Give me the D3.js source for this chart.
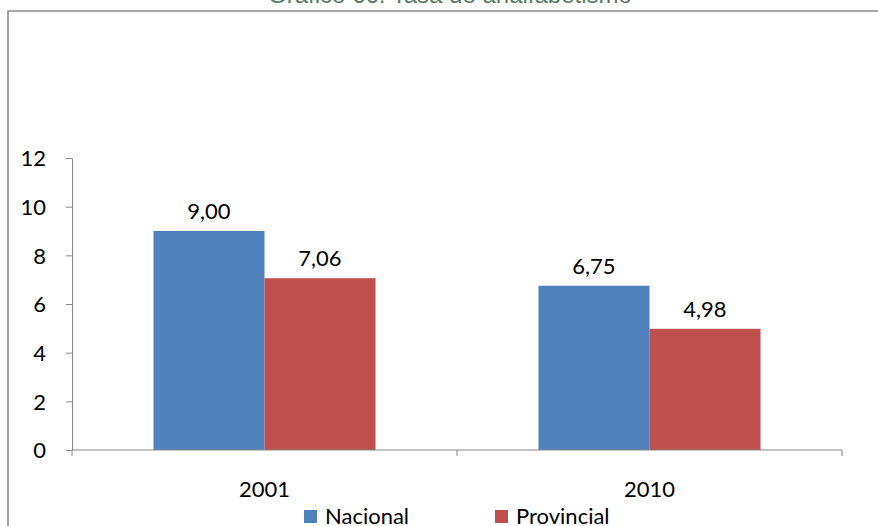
<!DOCTYPE html>
<html>
<head>
<meta charset="utf-8">
<script src="https://cdn.jsdelivr.net/npm/d3@7"></script>
<style>
  body { margin: 0; background: #fff; }
  svg { display: block; }
</style>
</head>
<body>
<div id="chart"></div>
<script>
// data
const categories = ["2001", "2010"];
const seriesNames = ["Nacional", "Provincial"];
const nacional = [9.00, 6.75];
const provincial = [7.06, 4.98];
const yTicks = [0, 2, 4, 6, 8, 10, 12];
const colors = ["#4F81BD", "#C0504D"];

const width = 878, height = 526;
const plotLeft = 72, plotRight = 842, plotTop = 158, plotBottom = 450;
const font = "Lato, 'Open Sans', sans-serif";

const svg = d3.select("#chart").append("svg")
  .attr("width", width)
  .attr("height", height);

// outer frame (runs off the right and bottom edges)
svg.append("path")
  .attr("d", `M8,${height + 5}V11H${width + 5}`)
  .attr("fill", "none")
  .attr("stroke", "#8a8a8a")
  .attr("stroke-width", 1.6);

// title, cut off at top
svg.append("text")
  .attr("x", 450)
  .attr("y", 3)
  .attr("text-anchor", "middle")
  .attr("font-family", "'Liberation Sans', Arial, sans-serif")
  .attr("font-size", 24)
  .attr("fill", "#587a63")
  .text("Gráfico 66: Tasa de analfabetismo");

const x0 = d3.scaleBand().domain(categories).range([plotLeft, plotRight]);
const x1 = d3.scaleBand().domain(seriesNames)
  .range([0, x0.bandwidth()])
  .paddingInner(0)
  .paddingOuter(0.734);
const y = d3.scaleLinear().domain([0, 12]).range([plotBottom, plotTop]);

const rows = categories.map((c, i) => ({
  cat: c,
  values: [
    { name: seriesNames[0], v: nacional[i] },
    { name: seriesNames[1], v: provincial[i] }
  ]
}));

// bars
const groups = svg.selectAll("g.grp").data(rows).join("g")
  .attr("class", "grp")
  .attr("transform", d => `translate(${x0(d.cat)},0)`);

groups.selectAll("rect").data(d => d.values).join("rect")
  .attr("x", d => x1(d.name))
  .attr("y", d => y(d.v))
  .attr("width", x1.bandwidth())
  .attr("height", d => y(0) - y(d.v))
  .attr("fill", (d, i) => colors[i]);

// value labels
groups.selectAll("text").data(d => d.values).join("text")
  .attr("x", d => x1(d.name) + x1.bandwidth() / 2)
  .attr("y", d => y(d.v) - 12)
  .attr("text-anchor", "middle")
  .attr("font-family", font)
  .attr("font-size", 22)
  .attr("fill", "#000")
  .text(d => d3.format(".2f")(d.v).replace(".", ","));

// y axis
const yAxis = svg.append("g")
  .attr("transform", `translate(${plotLeft},0)`)
  .call(d3.axisLeft(y).tickValues(yTicks).tickSize(6).tickPadding(20));
yAxis.select(".domain").attr("stroke", "#888");
yAxis.selectAll(".tick line").attr("stroke", "#888");
yAxis.selectAll(".tick text")
  .attr("font-family", font)
  .attr("font-size", 22)
  .attr("fill", "#000")
  .attr("dy", "0.36em");

// x axis, ticks on band edges
const xAxis = svg.append("g").attr("transform", `translate(0,${plotBottom})`);
xAxis.append("line")
  .attr("x1", plotLeft).attr("x2", plotRight)
  .attr("stroke", "#888");
const edges = categories.map(c => x0(c)).concat([plotRight]);
xAxis.selectAll("line.tk").data(edges).join("line")
  .attr("class", "tk")
  .attr("x1", d => d).attr("x2", d => d)
  .attr("y1", 0).attr("y2", 6)
  .attr("stroke", "#888");
xAxis.selectAll("text").data(categories).join("text")
  .attr("x", d => x0(d) + x0.bandwidth() / 2)
  .attr("y", 47)
  .attr("text-anchor", "middle")
  .attr("font-family", font)
  .attr("font-size", 22)
  .attr("fill", "#000")
  .text(d => d);

// legend
const legendX = [304, 495];
const legend = svg.selectAll("g.leg").data(seriesNames).join("g")
  .attr("class", "leg")
  .attr("transform", (d, i) => `translate(${legendX[i]},510)`);
legend.append("rect")
  .attr("width", 13).attr("height", 13)
  .attr("fill", (d, i) => colors[i]);
legend.append("text")
  .attr("x", 21)
  .attr("y", 14)
  .attr("font-family", font)
  .attr("font-size", 22)
  .attr("fill", "#000")
  .text(d => d);
</script>
</body>
</html>
